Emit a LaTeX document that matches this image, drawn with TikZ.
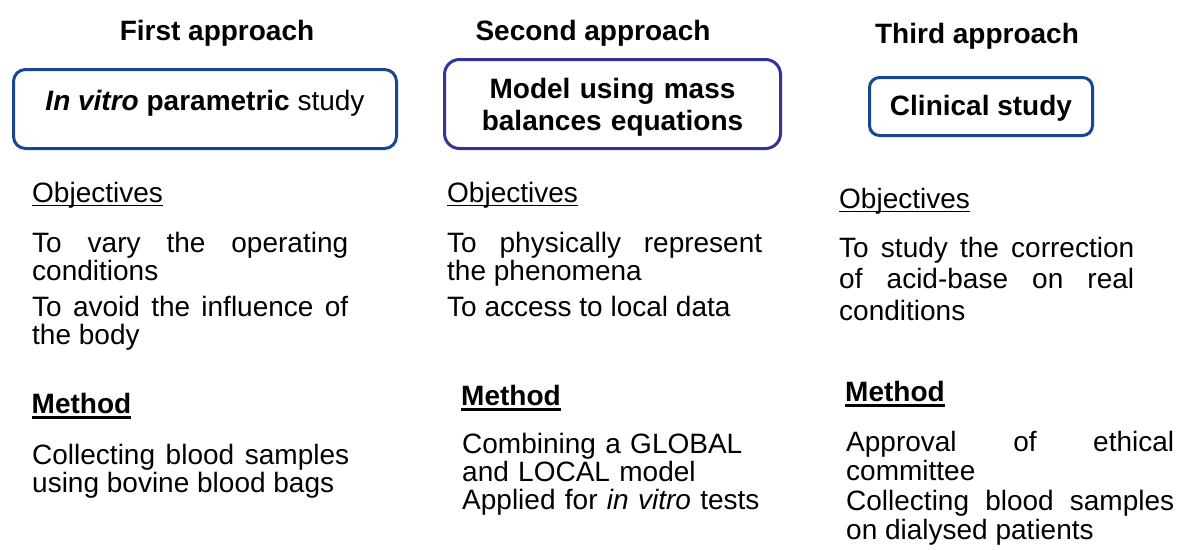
\documentclass[tikz,border=0pt]{standalone}
\usepackage{fontspec}
\setmainfont{Liberation Sans}
\definecolor{boxblue}{RGB}{24,70,146}
\definecolor{boxpurple}{RGB}{51,51,153}
\begin{document}
\begin{tikzpicture}[x=1pt,y=-1pt,
  headtitle/.style={font=\bfseries\fontsize{28}{32}\selectfont, inner sep=0, anchor=base},
  approachbox/.style={draw=#1, line width=3pt, rounded corners=12pt, inner sep=0, outer sep=0},
  boxtext/.style={font=\bfseries\fontsize{28}{32}\selectfont, inner sep=0, anchor=base},
  heading/.style={font=\fontsize{28}{32}\selectfont, inner sep=0, anchor=base west},
  boldheading/.style={font=\bfseries\fontsize{28}{32}\selectfont, inner sep=0, anchor=base west},
  bodytext/.style={text width=#1, align=justify, inner sep=0, anchor=base west,
    font=\fontsize{28}{28.5}\selectfont},
  raggedtext/.style={text width=#1, align=left, inner sep=0, anchor=base west,
    font=\fontsize{28}{28}\selectfont},
  thinrule/.style={line width=1.4pt},
  thickrule/.style={line width=2.6pt}
]
\fill[white] (0,0) rectangle (1178,549);
\useasboundingbox (0,0) rectangle (1178,549);

% column titles
\node[headtitle] (t1) at (217,40) {First approach};
\node[headtitle] (t2) at (593,40) {Second approach};
\node[headtitle] (t3) at (977,43) {Third approach};

% approach boxes
\node[approachbox=boxblue, minimum width=383pt, minimum height=79pt] (b1) at (205,109) {};
\node[boxtext] (b1t) at (205,110) {\textit{In vitro} parametric \mdseries study};

\node[approachbox=boxpurple, minimum width=336pt, minimum height=89pt, rounded corners=15pt] (b2) at (612.5,104) {};
\node[boxtext, text width=320pt, align=center] (b2t) at (612.5,98.5) {Model using mass\\balances equations};

\node[approachbox=boxblue, minimum width=223pt, minimum height=58pt, rounded corners=10pt] (b3) at (981,106.5) {};
\node[boxtext] (b3t) at (981,115) {Clinical study};

% objectives
\node[heading] (o1) at (32,202) {Objectives};
\node[heading] (o2) at (447,202) {Objectives};
\node[heading] (o3) at (839,208) {Objectives};
\foreach \n in {o1,o2,o3}
  \draw[thinrule] ([yshift=-3.5pt]\n.base west) -- ([yshift=-3.5pt]\n.base east);

\node[bodytext=316pt] (p1) at (32,252) {\setlength{\parskip}{7pt}To vary the operating\linebreak conditions\par To avoid the influence of\linebreak the body};
\node[bodytext=315pt] (p2) at (447,252) {\setlength{\parskip}{7pt}To physically represent\linebreak the phenomena\par To access to local data};
\node[bodytext=295pt, font=\fontsize{28}{31.5}\selectfont] (p3) at (839,257) {To study the correction\linebreak of acid-base on real\linebreak conditions};

% methods
\node[boldheading] (m1) at (31.5,413) {Method};
\node[boldheading] (m2) at (461,405) {Method};
\node[boldheading] (m3) at (845,401) {Method};
\foreach \n in {m1,m2,m3}
  \draw[thickrule] ([yshift=-4.5pt]\n.base west) -- ([yshift=-4.5pt]\n.base east);

\node[bodytext=317pt] (q1) at (32,464) {Collecting blood samples\linebreak using bovine blood bags};
\node[raggedtext=320pt] (q2) at (462,453) {Combining a GLOBAL\\and LOCAL model\\Applied for \textit{in vitro} tests};
\node[bodytext=328pt, font=\fontsize{28}{29.5}\selectfont] (q3) at (846,451) {Approval of ethical\linebreak committee\par Collecting blood samples\linebreak on dialysed patients};
\end{tikzpicture}
\end{document}
